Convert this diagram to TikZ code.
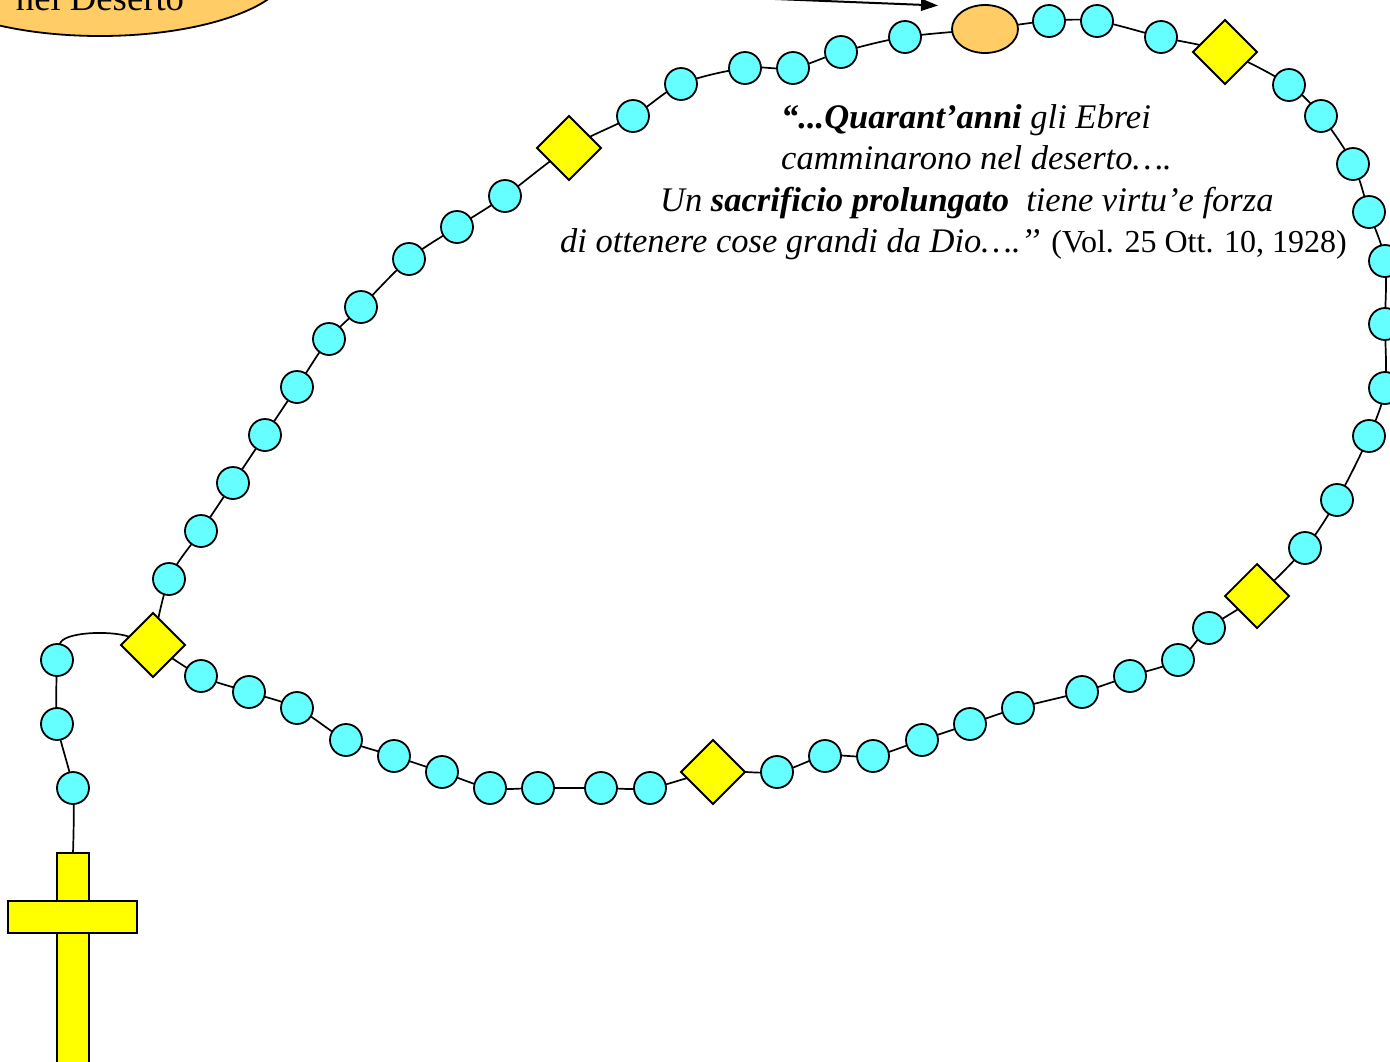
\documentclass[tikz,border=0pt]{standalone}
\usepackage{fontspec}
\setmainfont{Liberation Serif}
\usetikzlibrary{shapes.geometric,arrows.meta,backgrounds}
\definecolor{beadcyan}{HTML}{66FFFF}
\definecolor{beadorange}{HTML}{FFCC66}
\definecolor{beadyellow}{HTML}{FFFF00}
\tikzset{
  bead/.style={circle, draw=black, line width=1.8pt, fill=beadcyan, minimum size=32pt, inner sep=0pt, outer sep=0pt},
  paterbead/.style={diamond, draw=black, line width=1.8pt, fill=beadyellow, minimum width=64pt, minimum height=64pt, inner sep=0pt, outer sep=0pt},
  bigbead/.style={ellipse, draw=black, line width=1.8pt, fill=beadorange, minimum width=66pt, minimum height=48pt, inner sep=0pt, outer sep=0pt},
  crossbar/.style={rectangle, draw=black, line width=1.8pt, fill=beadyellow, inner sep=0pt, outer sep=0pt},
  cord/.style={draw=black, line width=1.7pt},
  quote/.style={anchor=base west, inner sep=0pt, font=\fontsize{34.5}{41}\selectfont},
}
\begin{document}
\begin{tikzpicture}[x=1pt,y=-1pt]
\useasboundingbox (0,0) rectangle (1390,1061);
\clip (0,0) rectangle (1390,1061);

% top-left label ellipse (cut by the frame)
\node[ellipse, draw=black, line width=1.8pt, fill=beadorange, minimum width=382pt, minimum height=140pt, inner sep=0pt] (lab) at (100,-34) {};
\node[anchor=base, inner sep=0pt, font=\fontsize{36.7}{40}\selectfont] (labtxt) at (100,10) {nel Deserto};

% arrow
\coordinate (arrS) at (700,-4);
\coordinate (arrE) at (938,5.5);
\draw[line width=2pt, -{Triangle[length=17pt,width=12pt]}] (arrS) -- (arrE);

% cross
\node[crossbar, minimum width=32pt, minimum height=217pt] (cv) at (73,961.5) {};
\node[crossbar, minimum width=129pt, minimum height=32pt] (ch) at (72.5,917) {};

% pendant beads
\node[bead] (p1) at (57,660) {};
\node[bead] (p2) at (57,724) {};
\node[bead] (p3) at (73,788) {};

% decade markers
\node[paterbead] (d1) at (153,645) {};
\node[paterbead] (d2) at (569,148) {};
\node[paterbead] (d3) at (1225,52) {};
\node[paterbead] (d4) at (1257,596) {};
\node[paterbead] (d5) at (713,772) {};
\node[bigbead] (ob) at (985,29) {};

% loop beads
\foreach \n/\x/\y in {
  l1/169/579, l2/201/531, l3/233/483, l4/265/435, l5/297/387,
  l6/329/339, l7/361/307, l8/409/259, l9/457/227, l10/505/196,
  t1/633/116, t2/681/84, t3/745/68, t4/793/68, t5/841/52, t6/905/37,
  u1/1049/21, u2/1097/21, u3/1161/37,
  r1/1289/85, r2/1321/116, r3/1353/164, r4/1369/212, r5/1385/261,
  r6/1385/324, r7/1385/388, r8/1369/436, r9/1337/500, r10/1305/548,
  b1/1209/628, b2/1178/660, b3/1130/676, b4/1082/692, b5/1018/708,
  b6/970/724, b7/922/740, b8/873/756, b9/825/756, b10/777/772,
  c1/650/788, c2/601/788, c3/538/788, c4/490/788, c5/442/772,
  c6/394/756, c7/346/740, c8/297/708, c9/249/692, c10/201/676}
  {\node[bead] (\n) at (\x,\y) {};}

% cord
\begin{pgfonlayer}{background}
\draw[cord] plot[smooth, tension=0.55] coordinates {
  (d1) (l1) (l2) (l3) (l4) (l5) (l6) (l7) (l8) (l9) (l10) (d2)
  (t1) (t2) (t3) (t4) (t5) (t6) (ob) (u1) (u2) (u3) (d3)
  (r1) (r2) (r3) (r4) (r5) (r6) (r7) (r8) (r9) (r10) (d4)
  (b1) (b2) (b3) (b4) (b5) (b6) (b7) (b8) (b9) (b10) (d5)
  (c1) (c2) (c3) (c4) (c5) (c6) (c7) (c8) (c9) (c10) (d1)};
\draw[cord] plot[smooth, tension=0.4] coordinates {(cv.north) (p3) (p2) (p1)};
\draw[cord] (p1) .. controls (62,632) and (110,630) .. (d1);
\end{pgfonlayer}

% quotation
\node[quote] (q1) at (781,128) {{\bfseries\itshape “...Quarant’anni} \itshape gli Ebrei};
\node[quote] (q2) at (781,169) {\itshape camminarono nel deserto….};
\node[quote] (q3) at (660,211) {\itshape Un {\bfseries sacrificio prolungato}\ \ tiene virtu’e forza};
\node[quote] (q4) at (560,252) {\itshape di ottenere cose grandi da Dio….’’ {\upshape\fontsize{32}{41}\selectfont(Vol. 25 Ott. 10, 1928)}};
\end{tikzpicture}
\end{document}
